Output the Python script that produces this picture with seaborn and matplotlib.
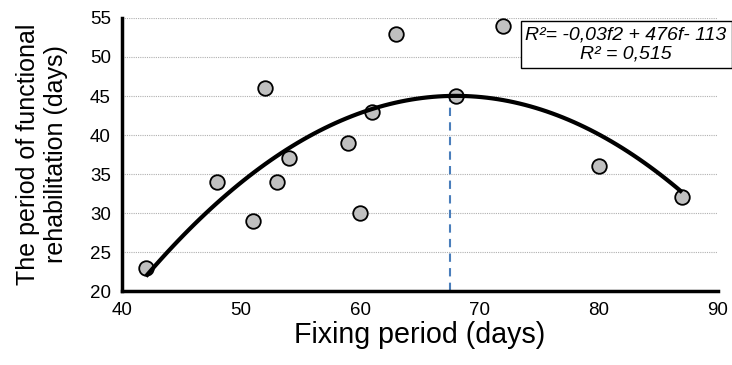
import matplotlib
matplotlib.use("Agg")
import matplotlib.pyplot as plt
import seaborn as sns
import numpy as np
import pandas as pd

# Data
fixing_days = [42, 48, 51, 52, 53, 54, 59, 60, 61, 63, 68, 72, 80, 87]
rehab_days = [23, 34, 29, 46, 34, 37, 39, 30, 43, 53, 45, 54, 36, 32]
peak_x = 67.5
peak_y = 45
x_ticks = [40, 50, 60, 70, 80, 90]
y_ticks = [20, 25, 30, 35, 40, 45, 50, 55]
eq_text = "R²= -0,03f2 + 476f- 113\nR² = 0,515"

df = pd.DataFrame({"x": fixing_days, "y": rehab_days})

sns.set_theme(style="white")
plt.rcParams["font.family"] = ["Liberation Sans", "DejaVu Sans"]

fig = plt.figure(figsize=(7.32, 3.65), dpi=100)
ax = fig.add_axes([0.1667, 0.2027, 0.8140, 0.7480])

for yv in y_ticks[1:]:
    ax.axhline(yv, color="#b0b0b0", lw=0.8, ls=(0, (1, 1)), zorder=0)

sns.regplot(data=df, x="x", y="y", order=2, ci=None, ax=ax,
            scatter_kws=dict(s=110, color="#c0c0c0", edgecolor="black", linewidths=1.3, alpha=1, zorder=3),
            line_kws=dict(color="black", lw=3, zorder=4, solid_capstyle="butt"))

ax.plot([peak_x, peak_x], [y_ticks[0], peak_y], color="#4a7ebb", lw=1.5, ls=(0, (4, 3)), zorder=2)

ax.set_xlim(x_ticks[0], x_ticks[-1])
ax.set_ylim(y_ticks[0], y_ticks[-1])
ax.set_xticks(x_ticks)
ax.set_yticks(y_ticks)
ax.tick_params(axis="both", direction="in", length=4, width=2.5, color="black",
               labelsize=13.5, labelcolor="black", pad=8)

for s in ["top", "right"]:
    ax.spines[s].set_visible(False)
for s in ["left", "bottom"]:
    ax.spines[s].set_color("black")
    ax.spines[s].set_linewidth(2.5)

ax.set_xlabel("Fixing period (days)", fontsize=20.6, color="black", labelpad=1)
ax.set_ylabel("The period of functional\nrehabilitation (days)", fontsize=18, color="black", labelpad=16)

ax.text(82.3, 51.6, eq_text, ha="center", va="center", fontsize=14, style="italic",
        color="black", linespacing=1.2,
        bbox=dict(boxstyle="square,pad=0.25", facecolor="white", edgecolor="black", lw=1),
        zorder=5)

fig.savefig("out.png", dpi=100)
